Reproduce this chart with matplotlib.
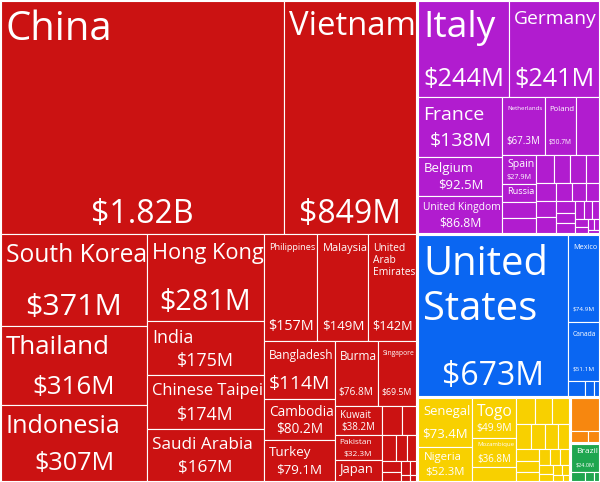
import matplotlib
matplotlib.use('Agg')
import matplotlib.pyplot as plt
from matplotlib.patches import Rectangle
from matplotlib.textpath import TextPath
from matplotlib.font_manager import FontProperties

FONT = 'Open Sans'
W, H = 600, 482

# Export destinations grouped by continent, values in $M (largest first)
asia_names = ['China', 'Vietnam', 'South Korea', 'Thailand', 'Indonesia', 'Hong Kong',
              'India', 'Chinese Taipei', 'Saudi Arabia', 'Philippines', 'Malaysia',
              'United Arab Emirates', 'Bangladesh', 'Cambodia', 'Turkey', 'Burma',
              'Singapore', 'Kuwait', 'Pakistan', 'Japan', 'Israel', 'Sri Lanka', 'Jordan',
              'Iraq', 'Oman', 'Qatar', 'Lebanon', 'Nepal', 'Laos', 'Kazakhstan', 'Georgia']
asia_values = [1820, 849, 371, 316, 307, 281, 175, 174, 167, 157, 149, 142, 114, 80.2, 79.1,
               76.8, 69.5, 38.2, 32.3, 27, 16, 12, 10, 8, 7, 6, 5, 3.5, 2.5, 1.5, 1]

europe_names = ['Italy', 'Germany', 'France', 'Belgium', 'United Kingdom', 'Netherlands',
                'Poland', 'Switzerland', 'Spain', 'Russia', 'Portugal', 'Austria', 'Greece',
                'Sweden', 'Denmark', 'Ukraine', 'Czechia', 'Romania', 'Hungary', 'Norway',
                'Finland', 'Ireland', 'Lithuania', 'Slovakia', 'Bulgaria', 'Croatia',
                'Slovenia', 'Latvia', 'Estonia', 'Serbia', 'Belarus', 'Malta', 'Luxembourg']
europe_values = [244, 241, 138, 92.5, 86.8, 67.3, 50.7, 36, 27.9, 17, 15, 14, 13.8, 13, 12.2,
                 10.5, 10, 9.5, 9, 8, 7, 6.5, 6, 5.5, 5, 4.5, 4, 3.5, 3, 2.5, 2, 1.5, 1]

namerica_names = ['United States', 'Mexico', 'Canada', 'Guatemala', 'Dominican Republic', 'Panama']
namerica_values = [673, 74.9, 51.1, 7, 4, 2]

africa_names = ['Senegal', 'Nigeria', 'Togo', 'Mozambique', 'Ghana', 'Benin', 'Cameroon',
                'Morocco', 'Egypt', 'Gabon', 'Mali', 'Tunisia', 'Algeria', 'Kenya', 'Tanzania',
                'Angola', 'Guinea', 'Madagascar', 'Mauritania', 'Burkina Faso', 'Niger',
                'Liberia', 'Sierra Leone', 'Gambia']
africa_values = [73.4, 52.3, 49.9, 36.8, 17, 13.5, 13, 12, 11, 10, 9, 8, 7.5, 7, 6, 5, 4.5,
                 4, 3.5, 3, 2.5, 2, 1.5, 1]

oceania_names = ['Australia', 'New Zealand', 'Fiji']
oceania_values = [28, 6, 4]

samerica_names = ['Brazil', 'Argentina', 'Chile', 'Peru']
samerica_values = [24, 4, 2.5, 1.5]

continents = [
    (asia_names, asia_values, '#cb1212'),
    (europe_names, europe_values, '#b11ccf'),
    (namerica_names, namerica_values, '#0a66f2'),
    (africa_names, africa_values, '#f8d000'),
    (oceania_names, oceania_values, '#f7870f'),
    (samerica_names, samerica_values, '#1fa64f'),
]

PHI = (1 + 5 ** 0.5) / 2


def squarify(values, x0, y0, x1, y1, ratio=PHI):
    # same row logic as d3.treemapSquarify
    rects = []
    n = len(values)
    value = sum(values)
    i0 = i1 = 0
    while i0 < n:
        dx, dy = x1 - x0, y1 - y0
        sum_v = values[i1]
        i1 += 1
        min_v = max_v = sum_v
        alpha = max(dy / dx, dx / dy) / (value * ratio)
        beta = sum_v * sum_v * alpha
        min_ratio = max(max_v / beta, beta / min_v)
        while i1 < n:
            v = values[i1]
            s = sum_v + v
            mn, mx = min(min_v, v), max(max_v, v)
            beta = s * s * alpha
            new_ratio = max(mx / beta, beta / mn)
            if new_ratio > min_ratio:
                break
            sum_v, min_v, max_v, min_ratio = s, mn, mx, new_ratio
            i1 += 1
        row = values[i0:i1]
        if dx < dy:
            yb = y0 + dy * sum_v / value
            xx = x0
            for v in row:
                w = dx * v / sum_v
                rects.append((xx, y0, w, yb - y0))
                xx += w
            y0 = yb
        else:
            xb = x0 + dx * sum_v / value
            yy = y0
            for v in row:
                h = dy * v / sum_v
                rects.append((x0, yy, xb - x0, h))
                yy += h
            x0 = xb
        value -= sum_v
        i0 = i1
    return rects


fp = FontProperties(family=FONT)
_widths = {}


def unit_width(s):
    if s not in _widths:
        _widths[s] = TextPath((0, 0), s, size=1, prop=fp).get_extents().width
    return _widths[s]


def fmt(v):
    if v >= 1000:
        return f'${v / 1000:.2f}B'
    if v >= 100:
        return f'${v:.0f}M'
    if v >= 10:
        return f'${v:.1f}M'
    return f'${v:.2f}M'


def name_layouts(name):
    words = name.split()
    opts = [[name]]
    for i in range(1, len(words)):
        opts.append([' '.join(words[:i]), ' '.join(words[i:])])
    for i in range(1, len(words) - 1):
        for j in range(i + 1, len(words)):
            opts.append([' '.join(words[:i]), ' '.join(words[i:j]), ' '.join(words[j:])])
    return opts


def px(fs):
    return fs * 72 / 100


MIN_NAME = 6.0


def fit_name(name, avail, room):
    best, best_lines = 0, None
    for lines in name_layouts(name):
        n = len(lines)
        fs = min(40, avail / max(unit_width(l) for l in lines),
                 room / (1.62 + 1.2 * (n - 1)))
        if fs > best + 0.5:
            best, best_lines = fs, lines
    return best, best_lines


def draw_label(ax, x, y, w, h, name, value):
    avail = w - 8
    if avail <= 4 or h < 16:
        return
    vtxt = fmt(value)
    top = min(9, 0.15 * h)
    vpad = min(11, 0.18 * h)
    v = min(32, 0.33 * h, min(w - 10, 0.85 * w) / unit_width(vtxt))
    wide_fs = avail / min(max(unit_width(l) for l in ls) for ls in name_layouts(name))

    show_v = False
    fs, lines = 0, None
    if v >= 5 and h >= 24:
        fs, lines = fit_name(name, avail, h - 1.41 * v)
        if fs >= MIN_NAME:
            used = top + len(lines) * 1.2 * fs
            show_v = used + 0.8 * v + vpad <= h + 0.5
        elif wide_fs < MIN_NAME and v >= 8:
            # name too long for the box, keep only the value
            show_v = True
    if not show_v:
        fs, lines = fit_name(name, avail, h)

    if fs >= MIN_NAME:
        ax.text(x + 5, y + top, '\n'.join(lines), ha='left', va='top',
                fontsize=px(fs), color='white', family=FONT, linespacing=1.15)
    if show_v:
        ax.text(x + w / 2, y + h - vpad, vtxt, ha='center', va='baseline',
                fontsize=px(v), color='white', family=FONT)


fig = plt.figure(figsize=(W / 100, H / 100), dpi=100)
ax = fig.add_axes([0, 0, 1, 1])
ax.set_xlim(0, W)
ax.set_ylim(H, 0)
ax.axis('off')

totals = [sum(vals) for _, vals, _ in continents]
for (names, vals, color), (cx, cy, cw, ch) in zip(continents, squarify(totals, 0, 0, W, H)):
    cx, cy, cw, ch = cx + 1, cy + 1, cw - 2, ch - 2
    for name, val, (x, y, w, h) in zip(names, vals, squarify(vals, cx, cy, cx + cw, cy + ch)):
        ax.add_patch(Rectangle((x, y), w, h, facecolor=color, edgecolor='white', linewidth=0.8))
        draw_label(ax, x, y, w, h, name, val)

fig.savefig('out.png', dpi=100, facecolor='white')
